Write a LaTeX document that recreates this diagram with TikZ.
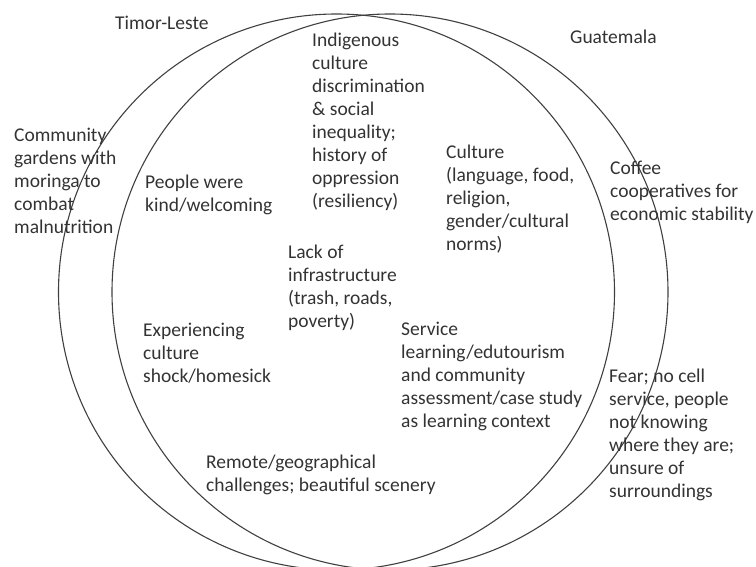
\documentclass[tikz,border=0pt]{standalone}
\usepackage{fontspec}
\setmainfont{Carlito}
\begin{document}
\begin{tikzpicture}[x=1pt,y=-1pt,
  lbl/.style={anchor=north west,inner sep=0pt,align=left,text=black!80,font=\fontsize{19.5}{23}\selectfont},
  ring/.style={draw=black!75,line width=1.1pt}]
\useasboundingbox (0,0) rectangle (756,567);
\draw[ring] (336.5,292) circle[radius=278];
\draw[ring] (390,292) circle[radius=278];
\node[lbl] (tl) at (115,15.5) {Timor-Leste};
\node[lbl] (gt) at (570,29.5) {Guatemala};
\node[lbl] (ind) at (312,32.5) {Indigenous\\culture\\discrimination\\\& social\\inequality;\\history of\\oppression\\(resiliency)};
\node[lbl] (com) at (14,127.5) {Community\\gardens with\\moringa to\\combat\\malnutrition};
\node[lbl] (ppl) at (145,174.5) {People were\\kind/welcoming};
\node[lbl] (cul) at (446,144.5) {Culture\\(language, food,\\religion,\\gender/cultural\\norms)};
\node[lbl] (cof) at (610,160.5) {Coffee\\cooperatives for\\economic stability};
\node[lbl] (lack) at (288,244.5) {Lack of\\infrastructure\\(trash, roads,\\poverty)};
\node[lbl] (exp) at (143,322.5) {Experiencing\\culture\\shock/homesick};
\node[lbl] (srv) at (401,321.5) {Service\\learning/edutourism\\and community\\assessment/case study\\as learning context};
\node[lbl] (fear) at (609,368.5) {Fear; no cell\\service, people\\not knowing\\where they are;\\unsure of\\surroundings};
\node[lbl] (rem) at (206,454.5) {Remote/geographical\\challenges; beautiful scenery};
\end{tikzpicture}
\end{document}
